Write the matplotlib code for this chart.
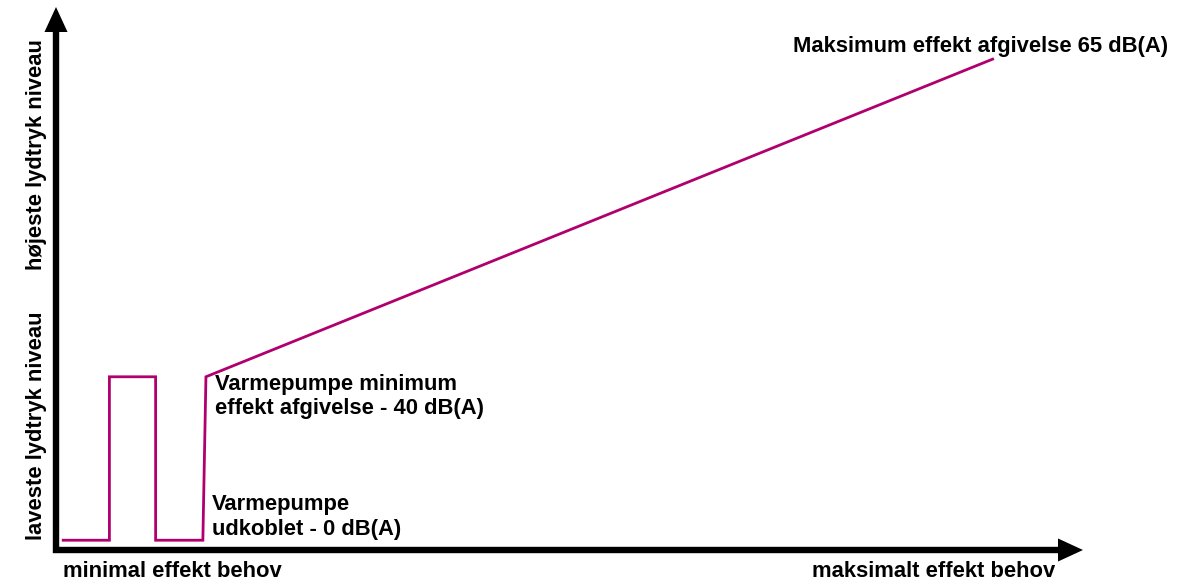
import matplotlib
matplotlib.use("Agg")
import matplotlib.pyplot as plt

# ---------------- data (schematic units: demand 0..100, level 0..100) ----------------
demand = [0.7, 5.2, 5.2, 9.7, 9.7, 14.3, 14.6, 91.2]
level = [1.8, 1.8, 31.9, 31.9, 1.8, 1.8, 31.9, 90.4]

y_label_low = "laveste lydtryk niveau"
y_label_high = "højeste lydtryk niveau"
x_label_low = "minimal effekt behov"
x_label_high = "maksimalt effekt behov"
ann_max = "Maksimum effekt afgivelse 65 dB(A)"
ann_min = ["Varmepumpe minimum", "effekt afgivelse - 40 dB(A)"]
ann_off = ["Varmepumpe", "udkoblet - 0 dB(A)"]

# ---------------- layout ----------------
W, H, DPI = 1192, 583, 100
ox, oy = 56, 550          # pixel of axis origin (from top-left)
tx, ty = 1083, 7          # pixel of arrow tips
sx = (tx - ox) / 100.0
sy = (oy - ty) / 100.0

MAGENTA = "#b0006e"
FONT = "Liberation Sans"
FS = 15.8

fig = plt.figure(figsize=(W / DPI, H / DPI), dpi=DPI)
ax = fig.add_axes([0, 0, 1, 1])
ax.set_xlim(-ox / sx, (W - ox) / sx)
ax.set_ylim(-(H - oy) / sy, oy / sy)
ax.axis("off")


def px(x, y):
    """top-left pixel -> figure fraction"""
    return x / W, 1 - y / H


# axes arrows
head_px = 25
ax.plot([0, 0, 100 - head_px / sx], [100 - head_px / sy, 0, 0], color="black",
        lw=4.6, solid_joinstyle="miter", solid_capstyle="butt", zorder=3)
for tip, tail in [((0, 100), (0, 90)), ((100, 0), (90, 0))]:
    ax.annotate("", xy=tip, xytext=tail,
                arrowprops=dict(arrowstyle="-|>,head_length=1.8,head_width=0.83",
                                lw=0, fc="black", ec="none", mutation_scale=10,
                                shrinkA=0, shrinkB=0), zorder=4)

# the curve
ax.plot(demand, level, color=MAGENTA, lw=2.0, solid_joinstyle="miter", zorder=2)

# texts
tk = dict(fontsize=FS, fontweight="bold", family=FONT, color="black")
fig.text(*px(793, 52), ann_max, ha="left", va="baseline", **tk)
fig.text(*px(215, 390), ann_min[0], ha="left", va="baseline", **tk)
fig.text(*px(215, 414), ann_min[1], ha="left", va="baseline", **tk)
fig.text(*px(212, 510), ann_off[0], ha="left", va="baseline", **tk)
fig.text(*px(212, 535), ann_off[1], ha="left", va="baseline", **tk)
fig.text(*px(63, 577), x_label_low, ha="left", va="baseline", **tk)
fig.text(*px(812, 577), x_label_high, ha="left", va="baseline", **tk)
fig.text(*px(42, 270), y_label_high, ha="left", va="baseline", rotation=90,
         rotation_mode="anchor", **tk)
fig.text(*px(42, 540), y_label_low, ha="left", va="baseline", rotation=90,
         rotation_mode="anchor", **tk)

fig.savefig("out.png", dpi=DPI)
